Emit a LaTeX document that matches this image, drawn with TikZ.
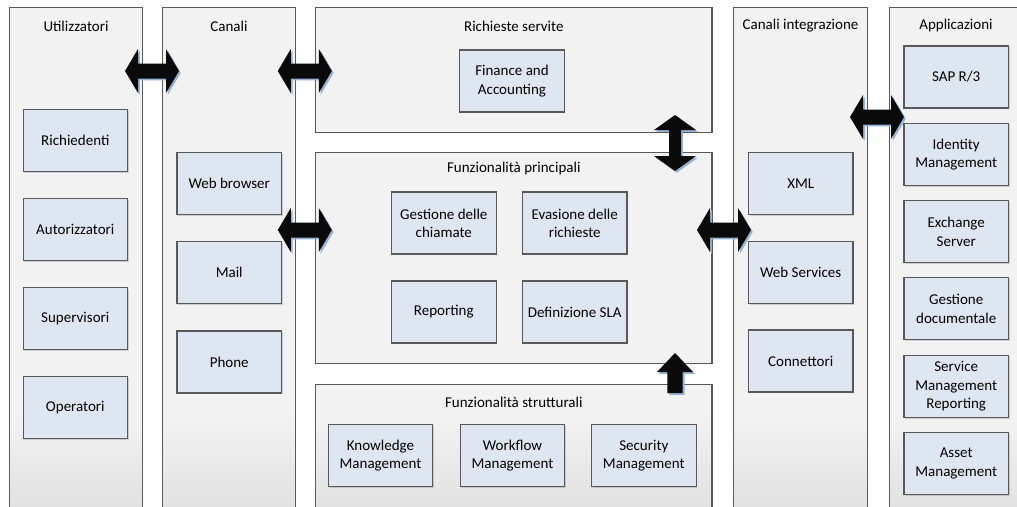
\documentclass[tikz,border=0pt]{standalone}
\usepackage{fontspec}
\setmainfont{Carlito}
\usetikzlibrary{shadows}

\definecolor{panelfill}{HTML}{F2F2F2}
\definecolor{panelfoot}{HTML}{E2E2E2}
\definecolor{panelline}{HTML}{595959}
\definecolor{boxfill}{HTML}{DEE7F1}
\definecolor{boxline}{HTML}{595959}
\definecolor{arrowfill}{HTML}{0A0A0A}
\definecolor{arrowshade}{HTML}{95B3D7}

\tikzset{
  paneltitle/.style={font=\fontsize{15}{18.3}\selectfont, anchor=center, inner sep=0pt},
  itembox/.style={draw=boxline, fill=boxfill, line width=1.1pt,
    minimum width=104.5pt, minimum height=62pt, inner sep=2pt, align=center,
    font=\fontsize{15}{18.3}\selectfont,
    drop shadow={shadow xshift=1.2pt, shadow yshift=-1.2pt, opacity=0.15, fill=black}},
  blockarrow/.style={fill=arrowfill, draw=none},
  blockshade/.style={fill=arrowshade, draw=none},
  % horizontal double-headed block arrow, centred on the pic origin
  harrow/.pic={
    \fill[blockshade, shift={(1.8,1.8)}] (-27,0) -- (-14,-22) -- (-14,-7.5) -- (14,-7.5) -- (14,-22) -- (27,0)
      -- (14,22) -- (14,7.5) -- (-14,7.5) -- (-14,22) -- cycle;
    \fill[blockarrow] (-27,0) -- (-14,-22) -- (-14,-7.5) -- (14,-7.5) -- (14,-22) -- (27,0)
      -- (14,22) -- (14,7.5) -- (-14,7.5) -- (-14,22) -- cycle;
  },
  % vertical double-headed block arrow
  varrow/.pic={
    \fill[blockshade, shift={(1.8,1.8)}] (0,-28) -- (21,-13) -- (6,-13) -- (6,13) -- (21,13) -- (0,28)
      -- (-21,13) -- (-6,13) -- (-6,-13) -- (-21,-13) -- cycle;
    \fill[blockarrow] (0,-28) -- (21,-13) -- (6,-13) -- (6,13) -- (21,13) -- (0,28)
      -- (-21,13) -- (-6,13) -- (-6,-13) -- (-21,-13) -- cycle;
  },
  % single upward block arrow
  uparrow/.pic={
    \fill[blockshade, shift={(1.8,1.8)}] (0,-20) -- (18,-1) -- (7.7,-1) -- (7.7,20) -- (-7.7,20) -- (-7.7,-1) -- (-18,-1) -- cycle;
    \fill[blockarrow] (0,-20) -- (18,-1) -- (7.7,-1) -- (7.7,20) -- (-7.7,20) -- (-7.7,-1) -- (-18,-1) -- cycle;
  },
}

% panel open at the bottom: fill with a darker foot, frame on three sides
\newcommand\openpanel[3]{% left, right, top
  \fill[panelfill] (#1,#3) rectangle (#2,530);
  \shade[top color=panelfill, bottom color=panelfoot] (#1,420) rectangle (#2,506);
  \draw[panelline, line width=1.2pt] (#1,530) -- (#1,#3) -- (#2,#3) -- (#2,530);
}
\newcommand\closedpanel[4]{% left, right, top, bottom
  \fill[panelfill] (#1,#3) rectangle (#2,#4);
  \draw[panelline, line width=1.2pt] (#1,#3) rectangle (#2,#4);
}

\begin{document}
\begin{tikzpicture}[x=1pt, y=-1pt]
  \useasboundingbox (0,0) rectangle (1017,506);
  \clip (0,0) rectangle (1017,506);
  \fill[white] (0,0) rectangle (1017,506);

  % panels
  \openpanel{9.3}{142.7}{7.3}
  \openpanel{162.3}{295.7}{7.3}
  \closedpanel{315.7}{712}{7.3}{132.7}
  \closedpanel{315.7}{712}{152.7}{363.3}
  \openpanel{315.7}{712}{384.3}
  \openpanel{733.7}{867.3}{7.3}
  \openpanel{889.7}{1040}{7.3}

  % panel titles
  \node[paneltitle] (tUtil) at (76,26) {Utilizzatori};
  \node[paneltitle] (tCan) at (229,26) {Canali};
  \node[paneltitle] (tRich) at (513.8,26) {Richieste servite};
  \node[paneltitle] (tPrinc) at (513.8,168) {Funzionalità principali};
  \node[paneltitle] (tStrut) at (513.8,402) {Funzionalità strutturali};
  \node[paneltitle] (tInt) at (800.5,26) {Canali integrazione};
  \node[paneltitle] (tApp) at (956,26) {Applicazioni};

  % Utilizzatori
  \node[itembox] (rich) at (75.3,140.3) {Richiedenti};
  \node[itembox] (aut) at (75.3,229.5) {Autorizzatori};
  \node[itembox] (sup) at (75.3,318.7) {Supervisori};
  \node[itembox] (op) at (75.3,407.9) {Operatori};

  % Canali
  \node[itembox] (web) at (229.2,183.5) {Web browser};
  \node[itembox] (mail) at (229.2,272.8) {Mail};
  \node[itembox] (phone) at (229.2,362) {Phone};

  % Richieste servite
  \node[itembox] (fin) at (512,81) {Finance and\\Accounting};

  % Funzionalita principali
  \node[itembox] (gest) at (443.8,223) {Gestione delle\\chiamate};
  \node[itembox] (evas) at (574.7,223) {Evasione delle\\richieste};
  \node[itembox] (rep) at (443.8,312) {Reporting};
  \node[itembox] (sla) at (574.7,312) {Definizione SLA};

  % Funzionalita strutturali
  \node[itembox] (know) at (380.5,455.5) {Knowledge\\Management};
  \node[itembox] (work) at (512.5,455.5) {Workflow\\Management};
  \node[itembox] (sec) at (643.8,455.5) {Security\\Management};

  % Canali integrazione
  \node[itembox] (xml) at (800.7,183.5) {XML};
  \node[itembox] (ws) at (800.7,272.3) {Web Services};
  \node[itembox] (conn) at (800.7,361) {Connettori};

  % Applicazioni
  \node[itembox] (sap) at (956.2,77) {SAP R/3};
  \node[itembox] (idm) at (956.2,154.3) {Identity\\Management};
  \node[itembox] (exch) at (956.2,231.8) {Exchange\\Server};
  \node[itembox] (doc) at (956.2,308.8) {Gestione\\documentale};
  \node[itembox] (smr) at (956.2,386.3) {Service\\Management\\Reporting};
  \node[itembox] (asset) at (956.2,463.5) {Asset\\Management};

  % block arrows between the layers
  \pic at (152,71) {harrow};
  \pic at (304.8,71) {harrow};
  \pic at (304.8,230) {harrow};
  \pic at (724,230) {harrow};
  \pic at (877,117) {harrow};
  \pic at (675,143) {varrow};
  \pic at (675,373) {uparrow};
\end{tikzpicture}
\end{document}
